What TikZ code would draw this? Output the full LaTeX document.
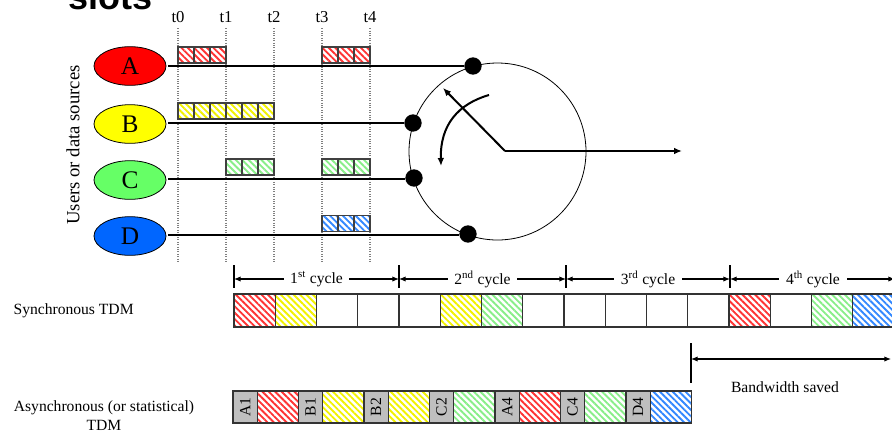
\documentclass[tikz,border=0pt]{standalone}
\usepackage{fontspec}
\setmainfont{Liberation Serif}
\setsansfont{Liberation Sans}
\usetikzlibrary{shapes.geometric,arrows.meta,patterns.meta}
\definecolor{srcA}{HTML}{FF0000}
\definecolor{srcB}{HTML}{FFFF00}
\definecolor{srcC}{HTML}{66FF66}
\definecolor{srcD}{HTML}{0066FF}
\definecolor{hA}{HTML}{FF3333}
\definecolor{hB}{HTML}{F2F200}
\definecolor{hC}{HTML}{88EE88}
\definecolor{hD}{HTML}{3388FF}
\tikzset{
  lbl/.style={font=\fontsize{11.7}{14.3}\selectfont, inner sep=1pt},
  tlab/.style={font=\fontsize{12.5}{14}\selectfont, inner sep=1pt},
  guide/.style={densely dotted, draw=gray, line width=0.8pt},
  src/.style={ellipse, draw=black, line width=0.6pt, minimum width=54pt, minimum height=29pt, inner sep=0pt, font=\fontsize{19}{19}\selectfont},
  mini/.style={draw=black!75, line width=0.9pt, minimum width=12pt, minimum height=12pt, inner sep=0pt},
  big/.style={draw=black!80, line width=0.9pt, minimum width=30.94pt, minimum height=24.75pt, inner sep=0pt},
  tag/.style={draw=black!80, fill=black!25, line width=0.9pt, minimum width=18.15pt, minimum height=24pt, inner sep=0pt, font=\fontsize{11.7}{14}\selectfont},
  dbox/.style={draw=black!80, line width=0.9pt, minimum width=30.97pt, minimum height=24pt, inner sep=0pt},
  hatch/.style={pattern={Lines[angle=-45,distance=3.4pt,line width=1.4pt]}, pattern color=#1},
  feed/.style={line width=1.5pt},
  thinfeed/.style={line width=0.9pt},
  dotn/.style={circle, fill=black, minimum size=13pt, inner sep=0pt},
  tip/.style={-{Latex[length=6pt,width=5pt]}, line width=1.5pt},
  dim/.style={{Latex[length=5pt,width=4pt]}-{Latex[length=5pt,width=4pt]}, line width=0.8pt},
  tick/.style={line width=1pt},
}
\begin{document}
\begin{tikzpicture}[x=0.75pt,y=-0.75pt]
\useasboundingbox (0,0) rectangle (892,437);
\clip (0,0) rectangle (892,437);

% title (cut off at top)
\node[anchor=base west, inner sep=0pt, font=\sffamily\bfseries\fontsize{27}{27}\selectfont] (title) at (68,9) {slots};

% time labels and guides
\foreach \n/\x in {0/178,1/226,2/274,3/322,4/370}{
  \node[tlab] (t\n) at (\x,17) {t\n};
  \coordinate (g\n) at (\x,262);
  \draw[guide] ([yshift=-3pt]t\n.south) -- (g\n);
}

% sources
\node[lbl, rotate=90, font=\fontsize{14}{14}\selectfont] (users) at (73,145) {Users or data sources};
\node[src, fill=srcA] (A) at (130,66) {A};
\node[src, fill=srcB] (B) at (130,124) {B};
\node[src, fill=srcC] (C) at (130,180) {C};
\node[src, fill=srcD] (D) at (130,236) {D};

% switch
\node[circle, draw=black, line width=0.6pt, minimum size=132.75pt, inner sep=0pt] (sw) at (497.5,151.5) {};
\node[dotn] (dA) at (473,66) {};
\node[dotn] (dB) at (413,123) {};
\node[dotn] (dC) at (414,178) {};
\node[dotn] (dD) at (468,234) {};
\coordinate (sA) at (168,66);
\coordinate (sB) at (168,123);
\coordinate (sC) at (168,179);
\coordinate (sD) at (168,235);
\draw[thinfeed] (sA) -- (dA);
\draw[feed] (sB) -- (dB);
\draw[feed] (sC) -- (dC.west |- sC);
\draw[feed] (sD) -- (dD.west |- sD);

\coordinate (piv) at (505,151);
\coordinate (outp) at (682,151);
\coordinate (ptr) at (443,88);
\coordinate (rotS) at (489,95);
\coordinate (rotE) at (441,166);
\draw[tip] (piv) -- (outp);
\draw[tip] (piv) -- (ptr);
\draw[tip] (rotS) .. controls (458,104) and (440,125) .. (rotE);

% data slots per source
\foreach \i/\x in {1/186,2/202,3/218,4/330,5/346,6/362}
  \node[mini, hatch=hA] (a\i) at (\x,55) {};
\foreach \i/\x in {1/186,2/202,3/218,4/234,5/250,6/266}
  \node[mini, hatch=hB] (b\i) at (\x,111) {};
\foreach \i/\x in {1/234,2/250,3/266,4/330,5/346,6/362}
  \node[mini, hatch=hC] (c\i) at (\x,167) {};
\foreach \i/\x in {1/330,2/346,3/362}
  \node[mini, hatch=hD] (d\i) at (\x,223.5) {};

% cycles
\foreach \k/\x in {0/234,1/399,2/566,3/730,4/895}{
  \coordinate (kt\k) at (\x,265);
  \coordinate (kb\k) at (\x,288);
  \coordinate (km\k) at (\x,279);
  \draw[tick] (kt\k) -- (kb\k);
}
\draw[dim] (km0) -- (km1);
\draw[dim] (km1) -- (km2);
\draw[dim] (km2) -- (km3);
\draw[dim] (km3) -- (km4);
\node[lbl, fill=white, inner xsep=5pt] (cy1) at (316.5,279) {1\textsuperscript{st} cycle};
\node[lbl, fill=white, inner xsep=5pt] (cy2) at (482.5,279) {2\textsuperscript{nd} cycle};
\node[lbl, fill=white, inner xsep=5pt] (cy3) at (648,279) {3\textsuperscript{rd} cycle};
\node[lbl, fill=white, inner xsep=5pt] (cy4) at (813,279) {4\textsuperscript{th} cycle};

% synchronous TDM
\node[lbl, anchor=west] (synlbl) at (12,311) {Synchronous TDM};
\foreach \i in {0,...,15}{
  \pgfmathsetmacro{\cx}{234+20.625+\i*41.25}
  \node[big] (s\i) at (\cx,310.5) {};
}
\foreach \i/\c in {0/hA,1/hB,5/hB,6/hC,12/hA,14/hC,15/hD}{
  \pgfmathsetmacro{\cx}{234+20.625+\i*41.25}
  \node[big, hatch=\c] (sh\i) at (\cx,310.5) {};
}

% asynchronous TDM
\node[lbl, align=center] (asylbl) at (104,416) {Asynchronous (or statistical)\\TDM};
\foreach \k/\t/\c in {0/A1/hA,1/B1/hB,2/B2/hB,3/C2/hC,4/A4/hA,5/C4/hC,6/D4/hD}{
  \pgfmathsetmacro{\tx}{233+\k*65.5+12.1}
  \pgfmathsetmacro{\dx}{233+\k*65.5+24.2+20.65}
  \node[tag] (q\k) at (\tx,407) {\rotatebox{90}{\t}};
  \node[dbox, hatch=\c] (p\k) at (\dx,407) {};
}

% bandwidth saved
\coordinate (bwt) at (691,343);
\coordinate (bwb) at (691,383);
\coordinate (bwl) at (691,359);
\coordinate (bwr) at (891,359);
\draw[tick] (bwt) -- (bwb);
\draw[dim] (bwl) -- (bwr);
\node[lbl] (bwlbl) at (785,387) {Bandwidth saved};
\end{tikzpicture}
\end{document}
